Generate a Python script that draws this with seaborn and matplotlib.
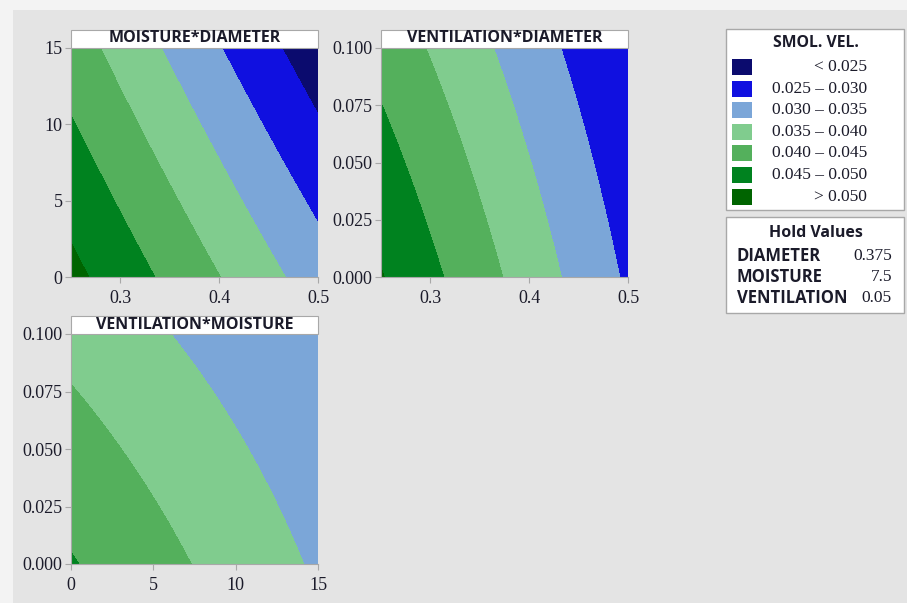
import numpy as np
import matplotlib
matplotlib.use("Agg")
import matplotlib.pyplot as plt
from matplotlib.patches import Rectangle
import seaborn as sns

# Fitted response surface for SMOL. VEL. in coded units
# d = (DIAMETER-0.375)/0.125, m = (MOISTURE-7.5)/7.5, v = (VENTILATION-0.05)/0.05
term_names = ["const", "d", "m", "v", "d*d", "m*m", "v*v", "d*m", "d*v", "m*v"]
coefficients = [0.0371142, -0.00982226, -0.00486128, -0.00283207, -7.57145e-05,
                4.84213e-06, -9.34764e-05, -0.000388238, 0.000668554, 0.000627629]

factor_names = ["DIAMETER", "MOISTURE", "VENTILATION"]
factor_low = [0.25, 0.0, 0.0]
factor_high = [0.5, 15.0, 0.1]
hold_values = [0.375, 7.5, 0.05]
hold_labels = ["0.375", "7.5", "0.05"]

band_edges = [0.025, 0.030, 0.035, 0.040, 0.045, 0.050]
band_labels = ["< 0.025", "0.025 – 0.030", "0.030 – 0.035", "0.035 – 0.040",
               "0.040 – 0.045", "0.045 – 0.050", "> 0.050"]
band_colors = ["#0b0b6e", "#1010e0", "#7ba6d8", "#80cc8e", "#54b05c", "#00821f", "#006400"]

tick_values = {"DIAMETER": [0.3, 0.4, 0.5], "MOISTURE": [0, 5, 10, 15],
               "VENTILATION": [0.0, 0.025, 0.05, 0.075, 0.1]}
tick_format = {"DIAMETER": "{:.1f}", "MOISTURE": "{:.0f}", "VENTILATION": "{:.3f}"}


def smol_vel(D, M, V):
    d = (D - 0.375) / 0.125
    m = (M - 7.5) / 7.5
    v = (V - 0.05) / 0.05
    terms = [np.ones_like(d), d, m, v, d * d, m * m, v * v, d * m, d * v, m * v]
    return sum(c * t for c, t in zip(coefficients, terms))


sns.set_theme(style="white")
plt.rcParams["font.family"] = ["DejaVu Sans"]

W, H = 907, 603
fig = plt.figure(figsize=(W / 100, H / 100), dpi=100)
fig.patch.set_facecolor("#f3f3f3")
fig.patches.append(Rectangle((13 / W, 0), 1, (H - 10) / H, transform=fig.transFigure,
                             facecolor="#e4e4e4", edgecolor="none", zorder=-10))

levels = [-1.0] + band_edges + [1.0]
lo = dict(zip(factor_names, factor_low))
hi = dict(zip(factor_names, factor_high))
hold = dict(zip(factor_names, hold_values))

# (x factor, y factor, pixel box left, top, right, bottom)
panels = [("DIAMETER", "MOISTURE", (71, 48, 318, 277)),
          ("DIAMETER", "VENTILATION", (381, 48, 628, 277)),
          ("MOISTURE", "VENTILATION", (71, 334, 318, 564))]

serif = "Liberation Serif"
sans = "Open Sans"
label_color = "#1b1b2a"
edge = "#a8a8a8"

for xname, yname, (x0, y0, x1, y1) in panels:
    ax = fig.add_axes([x0 / W, 1 - y1 / H, (x1 - x0) / W, (y1 - y0) / H])
    xs = np.linspace(lo[xname], hi[xname], 400)
    ys = np.linspace(lo[yname], hi[yname], 400)
    gx, gy = np.meshgrid(xs, ys)
    grid = {k: np.full_like(gx, v) for k, v in hold.items()}
    grid[xname] = gx
    grid[yname] = gy
    z = smol_vel(grid["DIAMETER"], grid["MOISTURE"], grid["VENTILATION"])
    ax.contourf(gx, gy, z, levels=levels, colors=band_colors)
    ax.set_xlim(lo[xname], hi[xname])
    ax.set_ylim(lo[yname], hi[yname])
    ax.set_xticks(tick_values[xname])
    ax.set_yticks(tick_values[yname])
    ax.set_xticklabels([tick_format[xname].format(t) for t in tick_values[xname]],
                       fontfamily=serif, fontsize=13, color=label_color)
    ax.set_yticklabels([tick_format[yname].format(t) for t in tick_values[yname]],
                       fontfamily=serif, fontsize=13, color=label_color)
    ax.tick_params(axis="both", which="both", direction="out", length=4, width=0.8, color=edge,
                   bottom=True, left=True)
    ax.tick_params(axis="x", pad=5.5)
    ax.tick_params(axis="y", pad=2)
    sns.despine(ax=ax, top=True, right=True)
    for s in ("left", "bottom"):
        ax.spines[s].set_color(edge)
        ax.spines[s].set_linewidth(0.8)
    # panel title strip
    fig.patches.append(Rectangle((x0 / W, 1 - y0 / H), (x1 - x0) / W, 18 / H,
                                 transform=fig.transFigure, facecolor="white",
                                 edgecolor=edge, linewidth=0.8))
    fig.text((x0 + x1) / 2 / W, 1 - (y0 - 9.5) / H, f"{yname}*{xname}", ha="center",
             va="center", fontsize=11.5, fontweight="bold", color=label_color, family=sans)

# legend box
fig.patches.append(Rectangle((726 / W, 1 - 210 / H), 178 / W, 181 / H, transform=fig.transFigure,
                             facecolor="white", edgecolor=edge, linewidth=1))
fig.text(816 / W, 1 - 43 / H, "SMOL. VEL.", ha="center", va="center", fontsize=11.3,
         fontweight="bold", color=label_color, family=sans)
for i, (c, lab) in enumerate(zip(band_colors, band_labels)):
    yc = 67 + i * 21.6
    fig.patches.append(Rectangle((732 / W, 1 - (yc + 8) / H), 20 / W, 16 / H,
                                 transform=fig.transFigure, facecolor=c, edgecolor="none"))
    fig.text(867 / W, 1 - yc / H, lab, ha="right", va="center", fontsize=12.5, family=serif,
             color=label_color)

# hold values box
fig.patches.append(Rectangle((726 / W, 1 - 313 / H), 178 / W, 96 / H, transform=fig.transFigure,
                             facecolor="white", edgecolor=edge, linewidth=1))
fig.text(816 / W, 1 - 233 / H, "Hold Values", ha="center", va="center", fontsize=11.5,
         fontweight="bold", color=label_color, family=sans)
for i, (name, txt) in enumerate(zip(factor_names, hold_labels)):
    yc = 256 + i * 21
    fig.text(737 / W, 1 - yc / H, name, ha="left", va="center", fontsize=12, fontweight="bold",
             color=label_color, family=sans)
    fig.text(892 / W, 1 - yc / H, txt, ha="right", va="center", fontsize=12.5,
             family=serif, color=label_color)

fig.savefig("out.png", dpi=100, facecolor=fig.get_facecolor())
